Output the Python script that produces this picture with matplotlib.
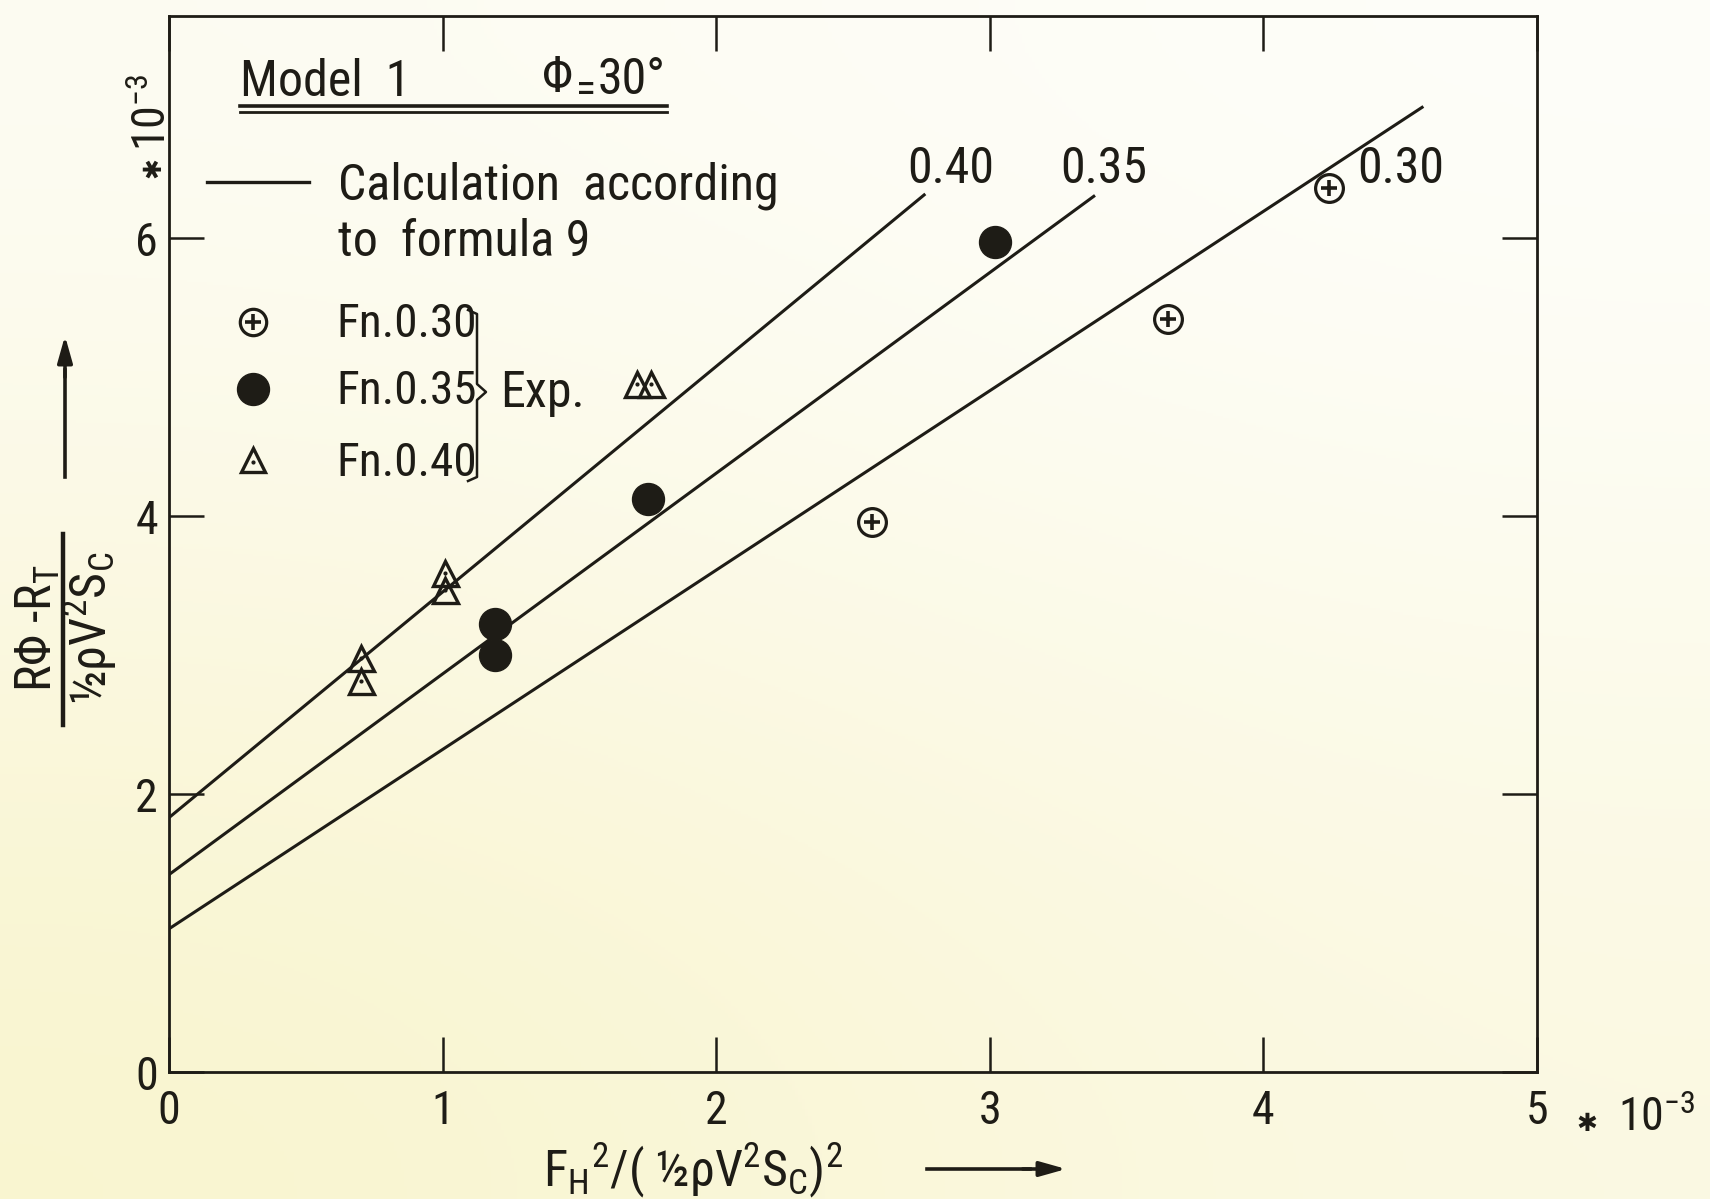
import numpy as np
import matplotlib.pyplot as plt
from matplotlib.lines import Line2D
from matplotlib import font_manager as fm

# a narrow drafting-like face if one is installed
have = {f.name for f in fm.fontManager.ttflist}
narrow = None
for cand in ['Liberation Sans Narrow', 'Roboto Condensed', 'Open Sans Condensed',
             'Noto Sans Condensed', 'DejaVu Sans Condensed']:
    if cand in have:
        narrow = cand
        break
if narrow is None:
    narrow = 'DejaVu Sans'
    k = 0.80   # wide face: shrink text
else:
    k = 1.0

plt.rcParams['font.family'] = [narrow, 'DejaVu Sans']
plt.rcParams['mathtext.fontset'] = 'custom'
plt.rcParams['mathtext.rm'] = narrow
plt.rcParams['mathtext.it'] = narrow

ink = '#1e1c16'
W, H = 1710, 1199

# calculated lines (formula 9), per Froude number
fn_names = ['0.30', '0.35', '0.40']
line_x = [[0, 4.58], [0, 3.38], [0, 2.76]]
line_y = [[1.03, 6.94], [1.42, 6.30], [1.83, 6.31]]

# experiments
fn30_x = [2.57, 3.65, 4.24]
fn30_y = [3.96, 5.42, 6.36]
fn35_x = [1.19, 1.19, 1.75, 3.02]
fn35_y = [3.00, 3.22, 4.12, 5.97]
fn40_x = [0.70, 0.70, 1.01, 1.01, 1.71, 1.76]
fn40_y = [2.81, 2.98, 3.47, 3.59, 4.95, 4.95]

xticks = [0, 1, 2, 3, 4, 5]
yticks = [0, 2, 4, 6]

fig = plt.figure(figsize=(W / 100, H / 100), dpi=100)

# paper background
bg = fig.add_axes([0, 0, 1, 1], zorder=-10)
paper = np.array([[[0.992, 0.988, 0.953], [0.996, 0.996, 0.98]],
                  [[0.976, 0.96, 0.81], [0.984, 0.976, 0.886]]])
bg.imshow(paper, interpolation='bicubic', extent=[0, 1, 0, 1], aspect='auto')
bg.axis('off')

L, R, T, B = 169, 1537, 16, 1072
ax = fig.add_axes([L / W, 1 - B / H, (R - L) / W, (B - T) / H])
ax.set_facecolor('none')
ax.set_xlim(0, 5)
ax.set_ylim(0, (B - T) / 139)


def fig_pt(x, y):
    return x / W, 1 - y / H


def ax_pt(x, y):
    return (x - L) / (R - L), (B - y) / (B - T)


for sp in ax.spines.values():
    sp.set_color(ink)
    sp.set_linewidth(2.0)

ax.set_xticks(xticks)
ax.set_yticks(yticks)
ax.tick_params(direction='in', length=25, width=1.8, color=ink, labelcolor=ink,
               labelsize=33 * k, top=True, right=True)
ax.tick_params(axis='x', pad=12)
ax.tick_params(axis='y', pad=8)

for xs, ys in zip(line_x, line_y):
    ax.plot(xs, ys, color=ink, lw=2.2)

ax.plot(fn30_x, fn30_y, 'o', ms=20, mfc='none', mec=ink, mew=2.3)
ax.plot(fn30_x, fn30_y, '+', ms=12, mec=ink, mew=2.6)
ax.plot(fn35_x, fn35_y, 'o', ms=23, mfc=ink, mec=ink)
ax.plot(fn40_x, fn40_y, '^', ms=18, mfc='none', mec=ink, mew=2.4)
ax.plot(fn40_x, fn40_y, '.', ms=4, color=ink)

big = 36 * k

# line labels
for name, (px, py) in zip(fn_names, [(1401, 169), (1104, 169), (951, 169)]):
    ax.text(*ax_pt(px, py), name, transform=ax.transAxes, ha='center',
            va='center', fontsize=big, color=ink)

# title block
ax.text(*ax_pt(240, 82), 'Model  1', transform=ax.transAxes, ha='left',
        va='center', fontsize=big, color=ink)
ax.text(*ax_pt(542, 78), 'Φ', transform=ax.transAxes, ha='left',
        va='center', fontsize=big, color=ink)
ax.text(*ax_pt(576, 90), '=', transform=ax.transAxes, ha='left',
        va='center', fontsize=30 * k, color=ink)
ax.text(*ax_pt(598, 80), '30°', transform=ax.transAxes, ha='left',
        va='center', fontsize=big, color=ink)
for yy, lw in [(106, 2.6), (112, 2.0)]:
    fig.add_artist(Line2D([240 / W, 667 / W], [1 - yy / H, 1 - yy / H],
                          color=ink, lw=lw))

# legend
fig.add_artist(Line2D([207 / W, 309 / W], [1 - 182 / H, 1 - 182 / H], color=ink, lw=2.4))
ax.text(*ax_pt(338, 186), 'Calculation  according', transform=ax.transAxes,
        ha='left', va='center', fontsize=big, color=ink)
ax.text(*ax_pt(338, 242), 'to  formula 9', transform=ax.transAxes,
        ha='left', va='center', fontsize=big, color=ink)

ax.plot(*ax_pt(253, 322), 'o', ms=19, mfc='none', mec=ink, mew=2.3,
        transform=ax.transAxes, clip_on=False)
ax.plot(*ax_pt(253, 322), '+', ms=12, mec=ink, mew=2.6,
        transform=ax.transAxes, clip_on=False)
ax.plot(*ax_pt(253, 389), 'o', ms=23, mfc=ink, mec=ink,
        transform=ax.transAxes, clip_on=False)
ax.plot(*ax_pt(253, 460), '^', ms=17, mfc='none', mec=ink, mew=2.4,
        transform=ax.transAxes, clip_on=False)
ax.plot(*ax_pt(253, 462), '.', ms=4, color=ink,
        transform=ax.transAxes, clip_on=False)

for lab, py in [('Fn.0.30', 324), ('Fn.0.35', 391), ('Fn.0.40', 463)]:
    ax.text(*ax_pt(336, py), lab, transform=ax.transAxes, ha='left',
            va='center', fontsize=34 * k, color=ink)

bx = [468, 477, 477, 486, 477, 477, 468]
by = [310, 314, 384, 392, 400, 477, 481]
fig.add_artist(Line2D([v / W for v in bx], [1 - v / H for v in by],
                      color=ink, lw=1.8))
ax.text(*ax_pt(500, 393), 'Exp.', transform=ax.transAxes, ha='left',
        va='center', fontsize=big, color=ink)

# y axis label (fraction) and arrow
fig.text(*fig_pt(38, 628), 'RΦ -R$_\\mathrm{T}$', rotation=90, ha='center',
         va='center', fontsize=big, color=ink)
fig.text(*fig_pt(90, 628), '½ρV$^\\mathrm{2}$S$_\\mathrm{C}$', rotation=90,
         ha='center', va='center', fontsize=big, color=ink)
fig.add_artist(Line2D([63 / W, 63 / W], [1 - 534 / H, 1 - 725 / H], color=ink, lw=3.2))
fig.add_artist(Line2D([65 / W, 65 / W], [1 - 477 / H, 1 - 370 / H], color=ink, lw=2.6))
ax.annotate('', xy=fig_pt(65, 333), xytext=fig_pt(65, 380), xycoords='figure fraction',
            textcoords='figure fraction',
            arrowprops=dict(arrowstyle='-|>,head_length=1.6,head_width=0.45',
                            color=ink, lw=2.6))
fig.text(*fig_pt(153, 168), '✱', rotation=90, ha='center', va='center',
         fontsize=18, family='DejaVu Sans', color=ink)
fig.text(*fig_pt(153, 112), '10$^{-3}$', rotation=90, ha='center',
         va='center', fontsize=33 * k, color=ink)

# x axis label and arrow
fig.text(*fig_pt(693, 1170), 'F$_\\mathrm{H}$$^\\mathrm{2}$/( ½ρV$^\\mathrm{2}$S$_\\mathrm{C}$)$^\\mathrm{2}$',
         ha='center', va='center', fontsize=big, color=ink)
fig.add_artist(Line2D([927 / W, 1030 / W], [1 - 1169 / H, 1 - 1169 / H], color=ink, lw=2.6))
ax.annotate('', xy=fig_pt(1069, 1169), xytext=fig_pt(1020, 1169), xycoords='figure fraction',
            textcoords='figure fraction',
            arrowprops=dict(arrowstyle='-|>,head_length=1.6,head_width=0.45',
                            color=ink, lw=2.6))
fig.text(*fig_pt(1587, 1124), '✱', ha='center', va='center',
         fontsize=18, family='DejaVu Sans', color=ink)
fig.text(*fig_pt(1618, 1118), '10$^{-3}$', ha='left', va='center',
         fontsize=33 * k, color=ink)

fig.savefig('out.png', dpi=100)
